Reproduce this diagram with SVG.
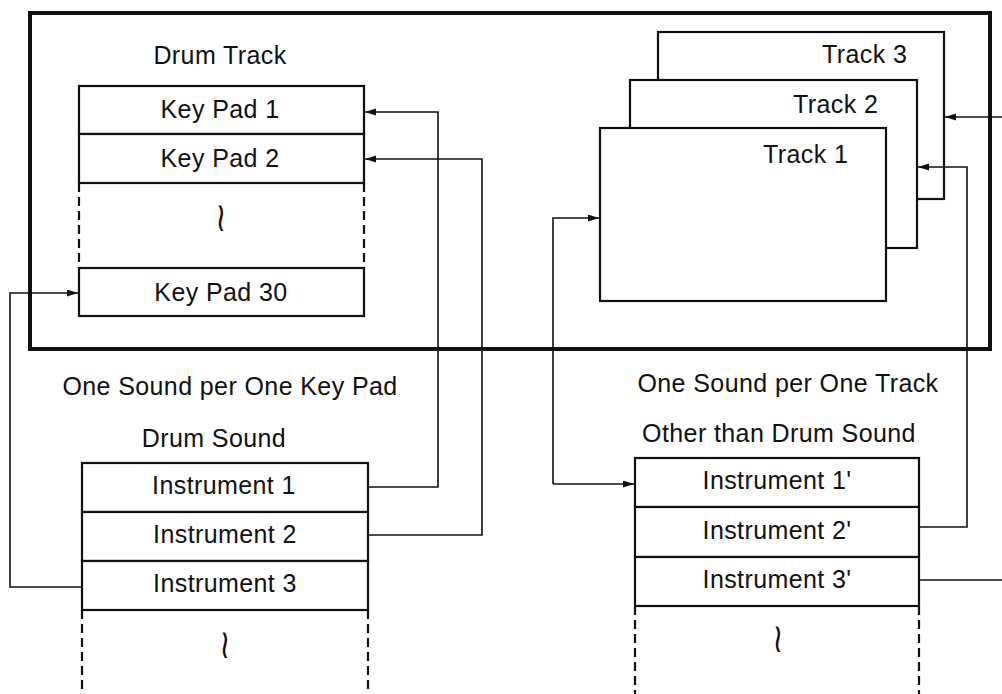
<svg xmlns="http://www.w3.org/2000/svg" width="1002" height="694" viewBox="0 0 1002 694">
<style>
text{font-family:"Liberation Sans",Arial,sans-serif;font-size:25px;fill:#111;letter-spacing:0.4px;}
.c{text-anchor:middle;}
.box{fill:#fff;stroke:#111;stroke-width:2.2;}
.dash{fill:none;stroke:#111;stroke-width:2.2;stroke-dasharray:9 5;}
.con{fill:none;stroke:#111;stroke-width:1.6;}
.sq{font-family:"DejaVu Sans",sans-serif;font-size:24px;letter-spacing:0;}
</style>
<defs>
<marker id="ah" markerUnits="userSpaceOnUse" markerWidth="12" markerHeight="8" refX="11" refY="3.5" orient="auto">
<path d="M0,0 L11,3.5 L0,7 z" fill="#111"/>
</marker>
</defs>
<rect x="30" y="13" width="960" height="336" fill="none" stroke="#111" stroke-width="4"/>
<g id="drum-track">
<text class="c" x="220" y="64">Drum Track</text>
<rect class="box" x="79" y="86" width="285" height="48"/>
<rect class="box" x="79" y="134" width="285" height="49"/>
<line class="dash" x1="79" y1="183" x2="79" y2="268"/>
<line class="dash" x1="364" y1="183" x2="364" y2="268"/>
<rect class="box" x="79" y="268" width="285" height="48"/>
<text class="c" x="220" y="118">Key Pad 1</text>
<text class="c" x="220" y="167">Key Pad 2</text>
<text class="c sq" transform="translate(221,219) scale(1.2,1.7)" x="0" y="7">≀</text>
<text class="c" x="221" y="301">Key Pad 30</text>
</g>
<g id="tracks">
<rect class="box" x="658" y="32" width="286" height="167"/>
<text x="822" y="63">Track 3</text>
<rect class="box" x="630" y="80" width="287" height="168"/>
<text x="793" y="113">Track 2</text>
<rect class="box" x="600" y="128" width="286" height="173"/>
<text x="763" y="163">Track 1</text>
</g>
<g id="drum-sound">
<text class="c" x="230" y="395">One Sound per One Key Pad</text>
<text class="c" x="214" y="447">Drum Sound</text>
<rect class="box" x="82" y="463" width="286" height="49"/>
<rect class="box" x="82" y="512" width="286" height="49"/>
<rect class="box" x="82" y="561" width="286" height="49"/>
<line class="dash" x1="82" y1="610" x2="82" y2="694"/>
<line class="dash" x1="368" y1="610" x2="368" y2="694"/>
<text class="c" x="224" y="494">Instrument 1</text>
<text class="c" x="225" y="543">Instrument 2</text>
<text class="c" x="225" y="592">Instrument 3</text>
<text class="c sq" transform="translate(225,646) scale(1.2,1.7)" x="0" y="7">≀</text>
</g>
<g id="other-sound">
<text class="c" x="788" y="392">One Sound per One Track</text>
<text class="c" x="779" y="442">Other than Drum Sound</text>
<rect class="box" x="635" y="458" width="284" height="49"/>
<rect class="box" x="635" y="507" width="284" height="50"/>
<rect class="box" x="635" y="557" width="284" height="49"/>
<line class="dash" x1="635" y1="606" x2="635" y2="694"/>
<line class="dash" x1="919" y1="606" x2="919" y2="694"/>
<text class="c" x="777" y="489">Instrument 1'</text>
<text class="c" x="777" y="539">Instrument 2'</text>
<text class="c" x="777" y="588">Instrument 3'</text>
<text class="c sq" transform="translate(778,640) scale(1.2,1.7)" x="0" y="7">≀</text>
</g>
<g id="connectors">
<polyline class="con" points="368,487 438,487 438,112 365,112" marker-end="url(#ah)"/>
<polyline class="con" points="368,535 482,535 482,159 365,159" marker-end="url(#ah)"/>
<polyline class="con" points="82,587 10,587 10,293 78,293" marker-end="url(#ah)"/>
<polyline class="con" points="553,484 553,218 599,218" marker-end="url(#ah)"/>
<polyline class="con" points="553,484 634,484" marker-end="url(#ah)"/>
<polyline class="con" points="919,527 967,527 967,167 918,167" marker-end="url(#ah)"/>
<polyline class="con" points="1002,117 945,117" marker-end="url(#ah)"/>
<polyline class="con" points="919,580 1002,580"/>
</g>
</svg>
